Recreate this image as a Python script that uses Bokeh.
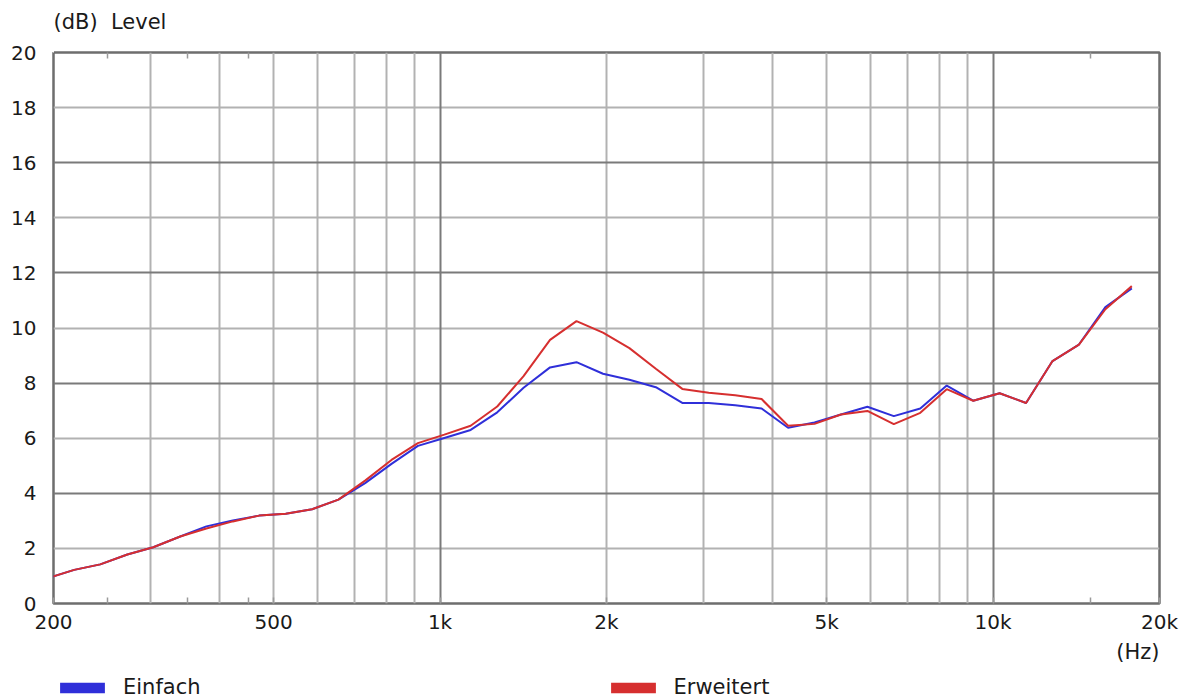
from bokeh.plotting import figure
from bokeh.layouts import column
from bokeh.models import Range1d, FixedTicker, LogAxis, Grid, Legend, LegendItem, Title
from bokeh.embed import file_html
from bokeh.resources import INLINE

# ---- data ----
freq_hz = [195, 218, 243, 272, 303, 339, 378, 422, 471, 526, 587, 655, 732, 817,
           912, 1018, 1136, 1269, 1416, 1581, 1765, 1971, 2200, 2456, 2742, 3061,
           3418, 3815, 4260, 4755, 5309, 5927, 6616, 7387, 8246, 9206, 10278,
           11474, 12810, 14301, 15965, 17823]
einfach_db = [0.92, 1.22, 1.42, 1.78, 2.04, 2.43, 2.80, 3.01, 3.19, 3.26, 3.42,
              3.77, 4.37, 5.07, 5.72, 6.01, 6.30, 6.94, 7.83, 8.57, 8.76, 8.34,
              8.12, 7.85, 7.28, 7.28, 7.20, 7.08, 6.38, 6.57, 6.86, 7.14, 6.80,
              7.08, 7.91, 7.36, 7.63, 7.28, 8.80, 9.40, 10.76, 11.44]
erweitert_db = [0.92, 1.22, 1.42, 1.78, 2.04, 2.43, 2.72, 2.98, 3.19, 3.26, 3.42,
                3.77, 4.46, 5.21, 5.82, 6.13, 6.45, 7.15, 8.25, 9.57, 10.25, 9.83,
                9.27, 8.52, 7.79, 7.65, 7.56, 7.42, 6.45, 6.52, 6.86, 6.99, 6.51,
                6.92, 7.78, 7.36, 7.63, 7.28, 8.80, 9.40, 10.68, 11.52]
series_names = ["Einfach", "Erweitert"]

x_tick_values = [200, 500, 1000, 2000, 5000, 10000, 20000]
x_tick_labels = ["200", "500", "1k", "2k", "5k", "10k", "20k"]
x_minor_ticks = [250, 350, 450, 15000]
x_grid_light = [300, 400, 500, 600, 700, 800, 900,
                2000, 3000, 4000, 5000, 6000, 7000, 8000, 9000]
x_grid_dark = [1000, 10000]
y_ticks = [0, 2, 4, 6, 8, 10, 12, 14, 16, 18, 20]
y_grid_light = [2, 6, 10, 14, 18]
y_grid_dark = [4, 8, 12, 16]

BLUE = "#2f2fd9"
RED = "#d62f2f"
FONT = "DejaVu Sans"
TXT = "#1a1a1a"

p = figure(width=1186, height=670, x_axis_type="log", title=None,
           x_range=Range1d(200, 20000), y_range=Range1d(0, 20),
           output_backend="svg", toolbar_location=None,
           min_border_left=53, min_border_right=27,
           min_border_top=52, min_border_bottom=67)

p.outline_line_color = "#6e6e6e"
p.outline_line_width = 2.5

# x axis (bottom)
xa = p.xaxis[0]
xa.ticker = FixedTicker(ticks=x_tick_values + x_minor_ticks)
ov = {v: l for v, l in zip(x_tick_values, x_tick_labels)}
ov.update({v: "" for v in x_minor_ticks})
xa.major_label_overrides = ov
xa.major_tick_in = 6
xa.major_tick_out = 0
xa.major_tick_line_color = "#9a9a9a"
xa.major_tick_line_width = 1.5
xa.minor_tick_line_color = None
xa.axis_line_color = None
xa.major_label_standoff = 6
xa.major_label_text_font = FONT
xa.major_label_text_font_size = "20px"
xa.major_label_text_color = TXT

# top minor ticks (no labels)
top = LogAxis(ticker=FixedTicker(ticks=x_minor_ticks),
              major_tick_in=6, major_tick_out=0, major_label_standoff=0,
              major_tick_line_color="#9a9a9a", major_tick_line_width=1.5,
              minor_tick_line_color=None, axis_line_color=None,
              major_label_text_font_size="12px", major_label_text_color=None)
p.add_layout(top, "above")
# white (invisible) spacer axis: reserves room so the title sits higher
spacer = LogAxis(ticker=FixedTicker(ticks=[200]), major_tick_in=0, major_tick_out=13,
                 major_tick_line_color="white", major_tick_line_width=1,
                 minor_tick_line_color=None, axis_line_color=None,
                 major_label_text_color=None)
p.add_layout(spacer, "above")
p.add_layout(Title(text="(dB)\u00a0\u00a0Level", align="left", text_font=FONT,
                   text_font_size="21px", text_font_style="normal",
                   text_color=TXT, standoff=12), "above")

# y axis
ya = p.yaxis[0]
ya.ticker = FixedTicker(ticks=y_ticks)
ya.major_tick_in = 0
ya.major_tick_out = 0
ya.minor_tick_line_color = None
ya.axis_line_color = None
ya.major_label_standoff = 17
ya.major_label_text_font = FONT
ya.major_label_text_font_size = "20px"
ya.major_label_text_color = TXT

# grids
p.xgrid.ticker = FixedTicker(ticks=x_grid_light)
p.xgrid.grid_line_color = "#b2b2b2"
p.xgrid.grid_line_width = 2
p.ygrid.ticker = FixedTicker(ticks=y_grid_light)
p.ygrid.grid_line_color = "#b2b2b2"
p.ygrid.grid_line_width = 2
p.add_layout(Grid(dimension=0, ticker=FixedTicker(ticks=x_grid_dark),
                  grid_line_color="#7a7a7a", grid_line_width=2))
p.add_layout(Grid(dimension=1, ticker=FixedTicker(ticks=y_grid_dark),
                  grid_line_color="#7a7a7a", grid_line_width=2))

# curves
p.line(freq_hz, einfach_db, line_color=BLUE, line_width=2)
p.line(freq_hz, erweitert_db, line_color=RED, line_width=2)

# unit label under the x axis, right-aligned
p.add_layout(Title(text="(Hz)", align="right", text_font=FONT,
                   text_font_size="21px", text_font_style="normal",
                   text_color=TXT, standoff=2), "below")

# ---- legend strip (separate figure below the chart) ----
q = figure(width=1186, height=29, output_backend="svg", toolbar_location=None,
           x_axis_location=None, y_axis_location=None,
           min_border=0, outline_line_color=None)
q.xgrid.visible = False
q.ygrid.visible = False
# zero-area quads on the series points only serve as legend swatches
r1 = q.quad(left=freq_hz, right=freq_hz, top=einfach_db, bottom=einfach_db,
            fill_color=BLUE, line_color=None)
r2 = q.quad(left=freq_hz, right=freq_hz, top=erweitert_db, bottom=erweitert_db,
            fill_color=RED, line_color=None)
legend = Legend(items=[LegendItem(label=series_names[0], renderers=[r1]),
                       LegendItem(label=series_names[1], renderers=[r2])],
                location=(1, 0), orientation="horizontal",
                glyph_width=56, glyph_height=13, label_standoff=13,
                spacing=404, padding=0, margin=0,
                border_line_color=None, background_fill_alpha=0,
                label_text_font=FONT, label_text_font_size="21px",
                label_text_color=TXT)
q.add_layout(legend)

open("out.html", "w").write(file_html(column(p, q, spacing=0), INLINE))
